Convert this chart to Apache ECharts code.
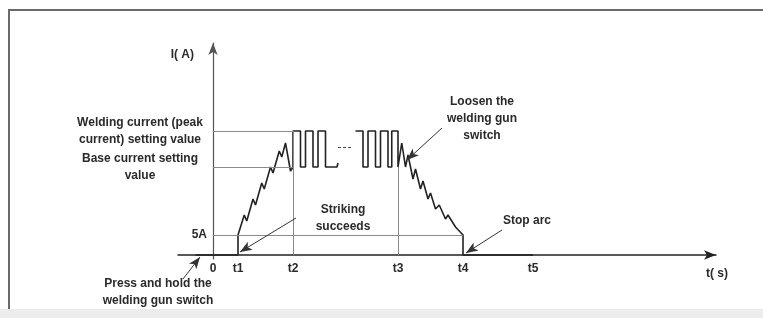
<!DOCTYPE html>
<html>
<head>
<meta charset="utf-8">
<script src="https://cdn.jsdelivr.net/npm/echarts@6/dist/echarts.min.js"></script>
<style>
  html, body { margin: 0; padding: 0; background: #fff; }
  #wrap { position: relative; width: 763px; height: 318px; overflow: hidden; background: #fff; }
  #frame { position: absolute; left: 8px; top: 9px; width: 760px; height: 298px;
           border-top: 2px solid #6a6a6a; border-left: 2px solid #6a6a6a; }
  #foot { position: absolute; left: 0; top: 309px; width: 763px; height: 9px; background: #ececec; }
  #main { position: absolute; left: 0; top: 0; width: 763px; height: 318px; }
</style>
</head>
<body>
<div id="wrap">
  <div id="frame"></div>
  <div id="foot"></div>
  <div id="main"></div>
</div>
<script>
// time marks on the x axis
const tickValues = [0, 10, 32, 74, 100, 128]
const tickNames = ['0', 't1', 't2', 't3', 't4', 't5']

// current levels (A)
const arcLevel = 5
const baseLevel = 22
const peakLevel = 31

// waveform pieces [t, I]
const rampUp = [[-7, 0], [10, 0], [10, 5], [12.5, 10], [13.5, 8.5], [16, 14], [17, 12.5],
  [19.5, 18], [20.5, 16.5], [23, 22], [24, 20.5], [26.5, 26], [27.5, 24.5], [29, 28],
  [31, 21], [32, 22]]
const pulsesA = [[32, 22], [32, 31], [35, 31], [35, 22], [37, 22], [37, 31], [40, 31],
  [40, 22], [42, 22], [42, 31], [45, 31], [45, 22], [49.6, 22], [50, 23]]
const pulsesB = [[57, 31], [60, 31], [60, 22], [62, 22], [62, 31], [65, 31], [65, 22],
  [67, 22], [67, 31], [70, 31], [70, 22], [71.5, 22], [71.5, 31], [74, 31], [74, 22]]
const rampDown = [[74, 22], [75.5, 28], [77, 22], [78, 25], [80, 19], [81, 21.5], [83, 16.5],
  [84, 18.5], [86, 14], [87, 15.5], [89, 11.5], [90.5, 12.5], [93, 9], [94, 10], [97, 7],
  [100, 5], [100, 0], [128, 0]]
const breakDash = [[50, 27], [56, 27]]

// notes above the time axis: [t, I, text]
const notes = [
  [52, 9.25, 'Striking\nsucceeds'],
  [107.6, 34, 'Loosen the\nwelding gun\nswitch'],
  [125.6, 8.5, 'Stop arc']
]
// note below the time axis
const lowNotes = [
  [-22, -9.25, 'Press and hold the\nwelding gun switch']
]
// leader lines: from note to waveform point
const leaders = [
  [[33.2, 9.25], [10.8, 0.75]],
  [[91.6, 31.75], [77.6, 23.75]],
  [[115.6, 6.25], [101.2, 0.5]]
]
const lowLeaders = [
  [[-12, -6], [-5.2, -0.5]]
]

const font = "'Liberation Sans', Arial, sans-serif"
const ink = '#222'
const txt = '#2a2a2a'

let myChart = echarts.init(document.getElementById('main'), null, { renderer: 'canvas' })

function guide(a, b) {
  return [{ coord: a }, { coord: b }]
}

function noteSeries(data, axisIndex) {
  return {
    type: 'scatter',
    xAxisIndex: axisIndex,
    yAxisIndex: axisIndex,
    clip: false,
    silent: true,
    symbolSize: 2,
    itemStyle: { color: 'rgba(0,0,0,0)' },
    data: data,
    label: {
      show: true,
      position: 'inside',
      align: 'center',
      verticalAlign: 'middle',
      opacity: 1,
      textBorderWidth: 0,
      fontFamily: font, fontSize: 12, fontWeight: 'bold', color: txt,
      lineHeight: 17,
      formatter: p => p.data[2]
    },
    labelLayout: { hideOverlap: false }
  }
}

function leaderSeries(data, axisIndex) {
  return {
    type: 'line',
    xAxisIndex: axisIndex,
    yAxisIndex: axisIndex,
    data: [],
    clip: false,
    markLine: {
      silent: true,
      symbol: ['none', 'arrow'],
      symbolSize: [7, 12],
      label: { show: false },
      lineStyle: { color: '#333', width: 1, type: 'solid' },
      data: data.map(l => guide(l[0], l[1]))
    }
  }
}

let option = {
  animation: false,
  grid: [
    { left: 178, right: 47, top: 43, bottom: 59 },
    { left: 178, right: 47, top: 255, bottom: 23 }
  ],
  xAxis: [{
    type: 'value',
    min: -14,
    max: 201.2,
    name: 't( s)',
    nameLocation: 'end',
    nameGap: 1,
    nameTextStyle: { fontFamily: font, fontSize: 12, fontWeight: 'bold', color: txt,
      align: 'center', verticalAlign: 'top', padding: [13, 0, 0, 0] },
    axisLine: { onZero: true, symbol: ['none', 'arrow'], symbolSize: [7, 12],
      lineStyle: { color: ink, width: 1.5 } },
    axisTick: { show: false },
    splitLine: { show: false },
    axisLabel: {
      customValues: tickValues,
      margin: 4,
      fontFamily: font, fontSize: 12, fontWeight: 'bold', color: txt,
      formatter: v => tickNames[tickValues.indexOf(v)]
    }
  }, {
    type: 'value',
    gridIndex: 1,
    min: -14,
    max: 201.2,
    show: false
  }],
  yAxis: [{
    type: 'value',
    min: -1,
    max: 53,
    name: 'I( A)',
    nameLocation: 'end',
    nameGap: -12,
    nameTextStyle: { fontFamily: font, fontSize: 12, fontWeight: 'bold', color: txt,
      align: 'right', verticalAlign: 'middle', padding: [0, 19, 0, 0] },
    axisLine: { onZero: true, symbol: ['none', 'arrow'], symbolSize: [7, 12],
      lineStyle: { color: '#555', width: 1.2 } },
    axisTick: { show: false },
    splitLine: { show: false },
    axisLabel: {
      customValues: [arcLevel, baseLevel, peakLevel],
      margin: -29,
      fontFamily: font, fontSize: 12, fontWeight: 'bold', color: txt,
      lineHeight: 16,
      formatter: v => {
        if (v === peakLevel) return '{blk|Welding current (peak}\n{blk|current) setting value}'
        if (v === baseLevel) return '{blk|Base current setting}\n{blk|value}'
        return '5A'
      },
      rich: {
        blk: { width: 134, align: 'center', fontFamily: font, fontSize: 12,
          fontWeight: 'bold', color: txt, lineHeight: 17 }
      }
    }
  }, {
    type: 'value',
    gridIndex: 1,
    min: -10,
    max: 0,
    show: false
  }],
  series: [
    {
      type: 'line',
      data: [],
      clip: false,
      markLine: {
        silent: true,
        symbol: ['none', 'none'],
        label: { show: false },
        lineStyle: { color: '#8a8a8a', width: 1, type: 'solid' },
        data: [
          guide([0, peakLevel], [tickValues[2], peakLevel]),
          guide([0, baseLevel], [tickValues[2], baseLevel]),
          guide([0, arcLevel], [tickValues[4], arcLevel]),
          guide([tickValues[2], peakLevel], [tickValues[2], 0]),
          guide([tickValues[3], baseLevel], [tickValues[3], 0])
        ]
      }
    },
    {
      type: 'line',
      data: [],
      clip: false,
      markLine: {
        silent: true,
        symbol: ['none', 'none'],
        label: { show: false },
        lineStyle: { color: '#444', width: 1, type: [3, 2] },
        data: [guide(breakDash[0], breakDash[1])]
      }
    },
    leaderSeries(leaders, 0),
    leaderSeries(lowLeaders, 1),
    { type: 'line', data: rampUp.concat(pulsesA), showSymbol: false, clip: false,
      lineStyle: { color: ink, width: 1.6 } },
    { type: 'line', data: pulsesB.concat(rampDown), showSymbol: false, clip: false,
      lineStyle: { color: ink, width: 1.6 } },
    noteSeries(notes, 0),
    noteSeries(lowNotes, 1)
  ]
}

if (option && typeof option === 'object') {
  myChart.setOption(option)
}
</script>
</body>
</html>
